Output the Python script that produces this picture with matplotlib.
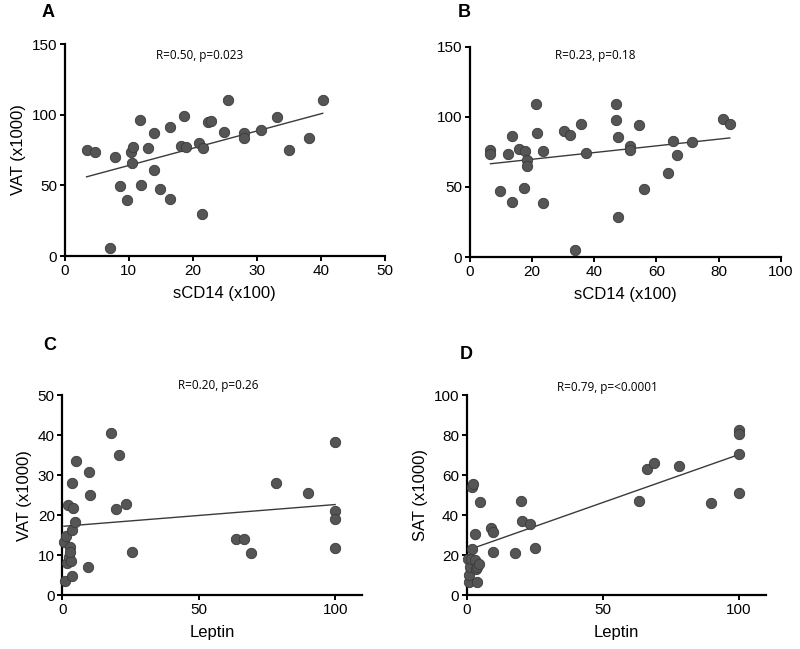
import numpy as np
import matplotlib
matplotlib.use("Agg")
import matplotlib.pyplot as plt

plt.rcParams['font.family'] = ['Liberation Sans', 'DejaVu Sans']

# Panel A: sCD14 vs VAT
a_x = [3.4, 4.7, 7.9, 7.0, 8.7, 9.7, 10.3, 10.7, 10.5, 11.8, 11.9, 13.0, 13.9, 14.0, 14.8,
       16.5, 16.5, 18.1, 18.7, 18.9, 20.9, 21.6, 21.4, 22.3, 22.8, 24.9, 25.5, 28.0, 28.0,
       30.7, 33.2, 35.0, 38.1, 40.3]
a_y = [74.8, 73.8, 70.0, 5.7, 49.8, 39.9, 73.3, 77.0, 65.6, 96.2, 50.5, 76.7, 86.8, 61.1, 47.6,
       91.0, 40.1, 78.0, 99.3, 77.1, 79.7, 76.7, 29.5, 95.0, 95.5, 87.7, 110.4, 87.3, 83.5,
       89.4, 98.3, 74.8, 83.7, 110.4]

# Panel B: sCD14 vs VAT
b_x = [6.7, 6.7, 9.9, 12.2, 13.7, 13.7, 15.8, 17.6, 17.8, 18.6, 18.5, 21.2, 21.7, 23.6, 23.5,
       30.3, 32.2, 33.9, 35.9, 37.4, 46.9, 47.2, 47.7, 47.6, 51.5, 51.5, 54.5, 56.2, 63.8,
       65.5, 66.6, 71.4, 81.4, 83.6]
b_y = [76.2, 73.8, 47.1, 73.3, 86.7, 39.0, 77.4, 49.5, 75.5, 69.5, 65.0, 109.5, 88.6, 76.0, 38.8,
       90.0, 87.4, 5.0, 95.0, 74.0, 109.5, 97.6, 85.5, 28.3, 79.3, 76.4, 94.5, 48.8, 60.0,
       82.6, 72.6, 82.4, 98.6, 95.0]

# Panel C: Leptin vs VAT
c_x = [1.1, 0.6, 1.5, 1.8, 2.1, 2.4, 2.7, 3.1, 2.9, 3.4, 3.6, 3.9, 3.7, 4.5, 5.1, 9.3, 9.8,
       10.0, 18.0, 20.6, 19.8, 23.5, 25.5, 63.6, 66.5, 69.0, 78.3, 90.1, 100.0, 100.0, 100.0, 100.0]
c_y = [3.6, 13.3, 14.8, 8.2, 22.5, 9.6, 12.2, 8.6, 10.9, 16.4, 28.2, 21.75, 4.8, 18.4, 33.5, 7.2,
       30.75, 25.1, 40.5, 35.2, 21.5, 22.75, 10.9, 14.1, 14.1, 10.5, 28.2, 25.7, 38.3, 21.2, 19.0, 11.9]

# Panel D: Leptin vs SAT
d_x = [0.9, 0.9, 0.6, 1.2, 1.6, 1.8, 2.5, 2.1, 3.1, 2.9, 3.4, 3.7, 3.9, 4.7, 5.0, 8.9, 9.8,
       9.6, 17.8, 19.9, 20.3, 23.4, 25.1, 63.2, 66.2, 68.9, 78.2, 89.8, 100.0, 100.0, 100.0, 100.0]
d_y = [6.8, 10.2, 18.0, 14.0, 18.0, 54.3, 55.5, 23.2, 30.5, 17.7, 13.0, 14.3, 6.8, 15.5, 46.8,
       33.5, 31.8, 21.7, 21.3, 47.0, 37.2, 35.5, 23.5, 47.2, 63.3, 66.0, 64.7, 46.3, 82.5, 80.5,
       70.5, 51.0]

panels = [
    dict(letter="A", x=a_x, y=a_y, xlim=(0, 50), ylim=(0, 150), xticks=[0, 10, 20, 30, 40, 50],
         yticks=[0, 50, 100, 150], xlabel="sCD14 (x100)", ylabel="VAT (x1000)",
         note="R=0.50, p=0.023", rect=[0.081, 0.6055, 0.400, 0.3267]),
    dict(letter="B", x=b_x, y=b_y, xlim=(0, 100), ylim=(0, 150), xticks=[0, 20, 40, 60, 80, 100],
         yticks=[0, 50, 100, 150], xlabel="sCD14 (x100)", ylabel=None,
         note="R=0.23, p=0.18", rect=[0.587, 0.604, 0.389, 0.3236]),
    dict(letter="C", x=c_x, y=c_y, xlim=(0, 110), ylim=(0, 50), xticks=[0, 50, 100],
         yticks=[0, 10, 20, 30, 40, 50], xlabel="Leptin", ylabel="VAT (x1000)",
         note="R=0.20, p=0.26", rect=[0.078, 0.0827, 0.375, 0.308]),
    dict(letter="D", x=d_x, y=d_y, xlim=(0, 110), ylim=(0, 100), xticks=[0, 50, 100],
         yticks=[0, 20, 40, 60, 80, 100], xlabel="Leptin", ylabel="SAT (x1000)",
         note="R=0.79, p=<0.0001", rect=[0.5833, 0.0827, 0.374, 0.308]),
]

fig = plt.figure(figsize=(8, 6.49), dpi=100)
fig.patch.set_facecolor("white")

for p in panels:
    ax = fig.add_axes(p["rect"])
    x = np.array(p["x"]); y = np.array(p["y"])
    slope, intercept = np.polyfit(x, y, 1)
    xs = np.array([x.min(), x.max()])
    ax.plot(xs, slope * xs + intercept, color="#3a3a3a", lw=1.0, zorder=2)
    ax.scatter(x, y, s=56, color="#555555", edgecolors="#3a3a3a", linewidths=0.6, zorder=3,
               clip_on=False)
    ax.set_xlim(*p["xlim"]); ax.set_ylim(*p["ylim"])
    ax.set_xticks(p["xticks"]); ax.set_yticks(p["yticks"])
    for s in ["top", "right"]:
        ax.spines[s].set_visible(False)
    for s in ["left", "bottom"]:
        ax.spines[s].set_linewidth(1.6)
        ax.spines[s].set_color("black")
    ax.tick_params(direction="out", length=3.5, width=1.4, labelsize=11, pad=2, colors="black")
    ax.set_xlabel(p["xlabel"], fontsize=12, labelpad=6)
    if p["ylabel"]:
        ax.set_ylabel(p["ylabel"], fontsize=12, labelpad=4)
    ax.set_facecolor("none")

# annotations and panel letters (figure pixel coordinates)
notes_px = [(200, 55), (595, 55), (218, 385), (607, 387)]
letters_px = [(42, 17), (458, 17), (43, 350), (460, 359)]
for p, (nx, ny), (lx, ly) in zip(panels, notes_px, letters_px):
    fig.text(nx / 800, 1 - ny / 649, p["note"], ha="center", va="center", fontsize=8.5,
             family=["Open Sans", "DejaVu Sans"])
    fig.text(lx / 800, 1 - ly / 649, p["letter"], ha="left", va="baseline", fontsize=13,
             fontweight="bold")

fig.savefig("out.png", dpi=100, facecolor="white")
